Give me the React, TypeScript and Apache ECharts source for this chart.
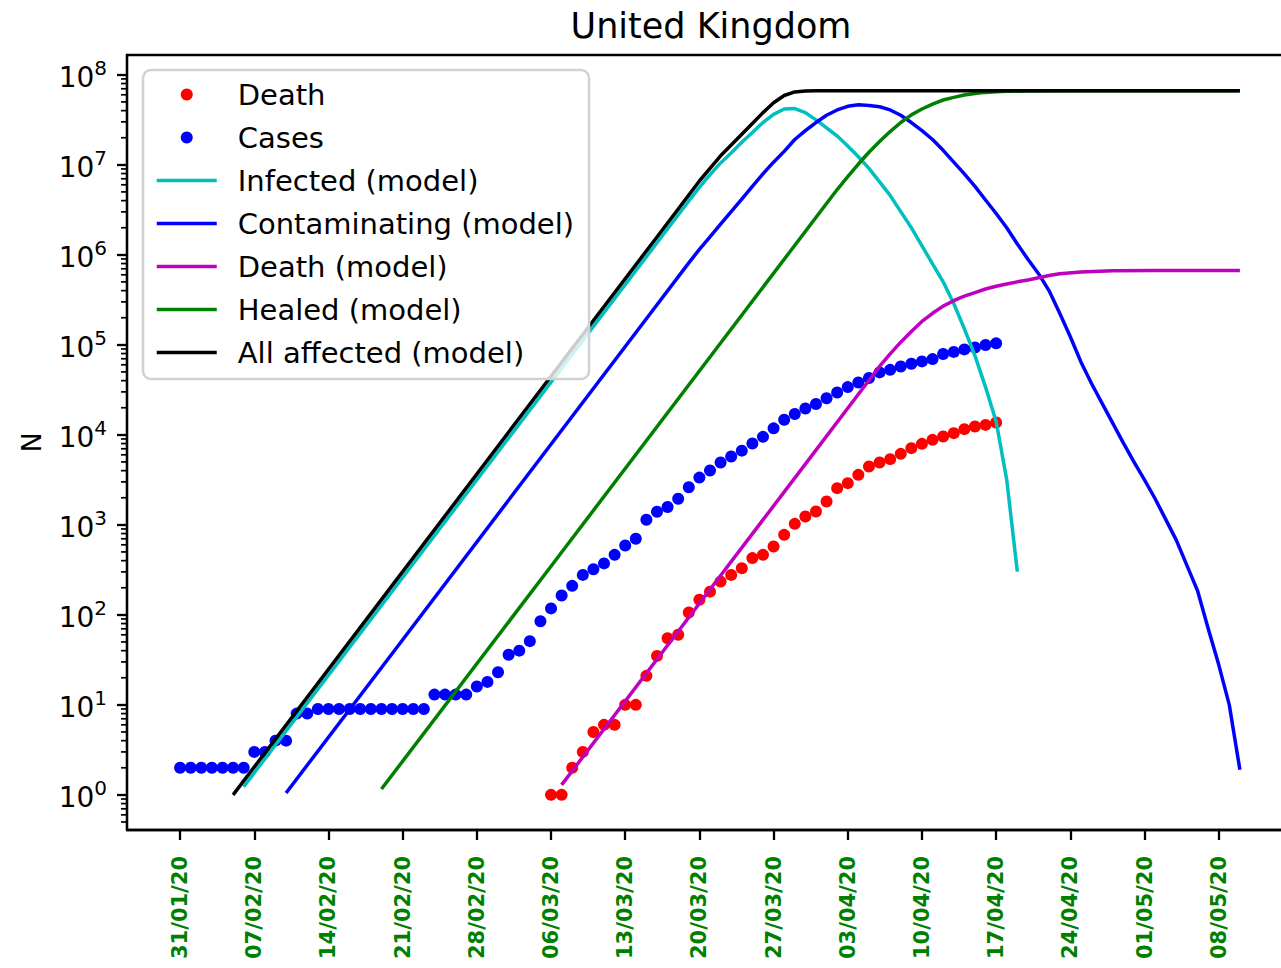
import React, { useEffect, useRef } from "react";
import * as echarts from "echarts";

// Day 0 of the series is 31/01/2020; x values are days since then.
const START_DATE_UTC = Date.UTC(2020, 0, 31);
const TICK_DAYS = [0, 7, 14, 21, 28, 35, 42, 49, 56, 63, 70, 77, 84, 91, 98];
const Y_TICKS = [1, 10, 100, 1e3, 1e4, 1e5, 1e6, 1e7, 1e8];

// Reported cumulative cases, one value per day from 31/01/2020.
const CASES = [
  2, 2, 2, 2, 2, 2, 2, 3, 3, 4, 4, 8, 8, 9, 9, 9, 9, 9, 9, 9, 9, 9, 9, 9, 13, 13, 13, 13,
  16, 18, 23, 36, 40, 51, 85, 118, 164, 210, 278, 321, 373, 464, 590, 700,
  1140, 1400, 1580, 1950, 2620, 3350, 4010, 4920, 5740, 6670, 8000, 9500,
  11800, 14700, 17050, 19600, 22000, 25500, 29500, 33900, 38100, 42800, 49400,
  52700, 57400, 61600, 65400, 69400, 79200, 83400, 89000, 93300, 99500, 103800,
];

// Reported cumulative deaths, one value per day from 06/03/2020 (day 35).
const DEATH_START_DAY = 35;
const DEATHS = [
  1, 1, 2, 3, 5, 6, 6, 10, 10, 21, 35, 55, 60, 106, 147, 181, 234, 278, 330, 427,
  464, 574, 774, 1026, 1238, 1405, 1815, 2555, 2905, 3593, 4444, 4930, 5370, 6150,
  7110, 7940, 8800, 9580, 10440, 11560, 12380, 12900, 13700,
];

// Model curves as [day, N].
const INFECTED_MODEL: [number, number][] = [
  [6, 1.23], [20, 182], [35, 3.85e4], [45, 1.36e6], [48, 3.98e6], [49, 5.62e6],
  [50, 7.76e6], [51, 1.05e7], [52, 1.35e7], [53, 1.78e7], [54, 2.29e7], [55, 2.95e7],
  [56, 3.63e7], [57, 4.17e7], [58, 4.22e7], [59, 3.8e7], [60, 3.16e7], [61, 2.57e7],
  [62, 2.09e7], [63, 1.62e7], [64, 1.23e7], [65, 9.12e6], [66, 6.46e6], [67, 4.57e6],
  [68, 3.02e6], [69, 2.0e6], [70, 1.26e6], [71, 7.94e5], [72, 5.01e5], [73, 2.88e5],
  [74, 1.51e5], [75, 7.59e4], [76, 3.39e4], [77, 1.41e4], [78, 3.16e3], [79, 302],
];

const CONTAMINATING_MODEL: [number, number][] = [
  [10, 1.05], [20, 37], [35, 7.85e3], [45, 2.79e5], [48, 8.13e5], [49, 1.15e6],
  [50, 1.58e6], [51, 2.19e6], [52, 3.02e6], [53, 4.17e6], [54, 5.75e6], [55, 7.94e6],
  [56, 1.07e7], [57, 1.41e7], [58, 1.91e7], [59, 2.4e7], [60, 2.95e7], [61, 3.55e7],
  [62, 4.07e7], [63, 4.47e7], [64, 4.65e7], [65, 4.57e7], [66, 4.42e7], [67, 4.07e7],
  [68, 3.55e7], [69, 2.95e7], [70, 2.4e7], [71, 1.91e7], [72, 1.45e7], [73, 1.07e7],
  [74, 7.94e6], [75, 5.75e6], [76, 4.07e6], [77, 2.88e6], [78, 2.0e6], [79, 1.32e6],
  [80, 8.91e5], [81, 6.17e5], [82, 3.98e5], [83, 2.24e5], [84, 1.23e5], [85, 6.46e4],
  [86, 3.72e4], [87, 2.24e4], [88, 1.35e4], [89, 8.13e3], [90, 5.01e3], [91, 3.16e3],
  [92, 1.95e3], [93, 1.15e3], [94, 676], [95, 355], [96, 186], [97, 71], [98, 28],
  [99, 10], [100, 1.9],
];

const DEATH_MODEL: [number, number][] = [
  [36, 1.29], [50, 191], [60, 6.76e3], [64, 2.82e4], [66, 5.75e4], [67, 7.94e4],
  [68, 1.07e5], [69, 1.41e5], [70, 1.82e5], [71, 2.24e5], [72, 2.69e5], [73, 3.09e5],
  [74, 3.47e5], [75, 3.8e5], [76, 4.17e5], [77, 4.47e5], [78, 4.73e5], [79, 5.01e5],
  [80, 5.25e5], [81, 5.56e5], [82, 5.89e5], [83, 6.17e5], [85, 6.46e5], [88, 6.64e5],
  [92, 6.71e5], [100, 6.71e5],
];

const HEALED_MODEL: [number, number][] = [
  [19, 1.16], [35, 347], [50, 7.33e4], [62, 5.31e6], [63, 7.41e6], [64, 1.02e7],
  [65, 1.38e7], [66, 1.82e7], [67, 2.34e7], [68, 2.95e7], [69, 3.59e7], [70, 4.17e7],
  [71, 4.73e7], [72, 5.25e7], [73, 5.62e7], [74, 5.96e7], [75, 6.21e7], [76, 6.38e7],
  [77, 6.49e7], [78, 6.56e7], [80, 6.62e7], [85, 6.64e7], [100, 6.64e7],
];

const ALL_AFFECTED_MODEL: [number, number][] = [
  [5, 1.0], [20, 211], [35, 4.47e4], [45, 1.58e6], [48, 4.62e6], [49, 6.61e6],
  [50, 9.12e6], [51, 1.26e7], [52, 1.66e7], [53, 2.19e7], [54, 2.88e7], [55, 3.8e7],
  [56, 4.9e7], [57, 5.89e7], [58, 6.46e7], [59, 6.61e7], [60, 6.64e7], [100, 6.64e7],
];

const X_MIN = -5.01;
const X_MAX = 105.2;
const Y_MIN = 0.407;
const Y_MAX = 1.66e8;

const FONT = "DejaVu Sans";

// Series colours
const C_DEATH = "#ff0000";
const C_CASES = "#0000ff";
const C_INFECTED = "#00bfbf";
const C_CONTAM = "#0000ff";
const C_DEATH_MODEL = "#bf00bf";
const C_HEALED = "#008000";
const C_ALL = "#000000";

// Log-axis minor ticks at 2..9 x 10^k inside the visible range.
const MINOR_TICKS: number[] = [];
for (let k = -1; k <= 8; k++) {
  for (let m = 2; m <= 9; m++) {
    const v = m * Math.pow(10, k);
    if (v > Y_MIN && v < Y_MAX) MINOR_TICKS.push(v);
  }
}

function formatDay(day: number): string {
  const d = new Date(START_DATE_UTC + day * 86400000);
  const dd = String(d.getUTCDate()).padStart(2, "0");
  const mm = String(d.getUTCMonth() + 1).padStart(2, "0");
  const yy = String(d.getUTCFullYear() % 100).padStart(2, "0");
  return `${dd}/${mm}/${yy}`;
}

const LINE_W = 3.5;
const DOT = 12;
// The figure is a little wider than the visible window; its right spine falls outside.
const CHART_W = 1300;
const CHART_H = 968;

function lineSeries(name: string, color: string, data: [number, number][]) {
  return {
    name,
    type: "line",
    data,
    symbol: "none",
    showSymbol: false,
    smooth: false,
    lineStyle: { color, width: LINE_W, join: "round" },
    itemStyle: { color },
    z: 3,
  };
}

export default function App() {
  const ref = useRef<HTMLDivElement>(null);

  useEffect(() => {
    if (!ref.current) return;
    const chart = echarts.init(ref.current, undefined, { renderer: "svg" });

    const lineLegend = (name: string, color: string) => ({
      name,
      icon: "line",
      itemStyle: { color, borderColor: color, borderWidth: LINE_W },
    });
    const dotLegend = (name: string, color: string) => ({
      name,
      icon: "circle",
      itemStyle: { color, borderWidth: 0, opacity: 1 },
    });

    chart.setOption({
      animation: false,
      backgroundColor: "#ffffff",
      textStyle: { fontFamily: FONT },
      title: {
        text: "United Kingdom",
        left: 711,
        top: 8,
        padding: 0,
        textAlign: "center",
        textStyle: { fontFamily: FONT, fontSize: 35, fontWeight: "normal", color: "#000" },
      },
      grid: {
        left: 127,
        right: CHART_W - 1295,
        top: 55,
        bottom: 138,
        show: true,
        borderColor: "#000",
        borderWidth: 2.3,
        backgroundColor: "transparent",
      },
      legend: {
        orient: "vertical",
        left: 143,
        top: 70,
        padding: [10, 15, 12, 12],
        itemGap: 14,
        itemWidth: 60,
        itemHeight: 12,
        selectedMode: false,
        backgroundColor: "rgba(255,255,255,0.8)",
        borderColor: "#d2d2d2",
        borderWidth: 2.5,
        borderRadius: 8,
        textStyle: { fontFamily: FONT, fontSize: 29, color: "#000", padding: [0, 0, 0, 16] },
        data: [
          dotLegend("Death", C_DEATH),
          dotLegend("Cases", C_CASES),
          lineLegend("Infected (model)", C_INFECTED),
          lineLegend("Contaminating (model)", C_CONTAM),
          lineLegend("Death (model)", C_DEATH_MODEL),
          lineLegend("Healed (model)", C_HEALED),
          lineLegend("All affected (model)", C_ALL),
        ],
      },
      xAxis: {
        type: "value",
        min: X_MIN,
        max: X_MAX,
        splitLine: { show: false },
        axisLine: { show: true, onZero: false, lineStyle: { color: "#000", width: 2.3 } },
        axisTick: {
          show: true,
          inside: false,
          length: 10,
          lineStyle: { color: "#000", width: 2.3 },
          customValues: TICK_DAYS,
        },
        axisLabel: {
          customValues: TICK_DAYS,
          rotate: 90,
          margin: 26,
          color: "#008000",
          fontWeight: "bold",
          fontSize: 21,
          fontFamily: FONT,
          formatter: (v: number) => formatDay(v),
        },
      },
      yAxis: {
        type: "log",
        logBase: 10,
        min: Y_MIN,
        max: Y_MAX,
        name: "N",
        nameLocation: "middle",
        nameRotate: 90,
        nameGap: 82,
        nameTextStyle: { fontFamily: FONT, fontSize: 27, color: "#000" },
        splitLine: { show: false },
        axisLine: { show: true, onZero: false, lineStyle: { color: "#000", width: 2.3 } },
        axisTick: {
          show: true,
          inside: false,
          length: 10,
          lineStyle: { color: "#000", width: 2.3 },
          customValues: Y_TICKS,
        },
        axisLabel: {
          customValues: Y_TICKS,
          margin: 20,
          formatter: (v: number) => `{b|10}{e|${Math.round(Math.log10(v))}}`,
          rich: {
            b: { fontFamily: FONT, fontSize: 28, color: "#000", lineHeight: 34, verticalAlign: "bottom" },
            e: { fontFamily: FONT, fontSize: 20, color: "#000", lineHeight: 20, verticalAlign: "top" },
          },
        },
      },
      series: [
        {
          name: "Death",
          type: "scatter",
          data: DEATHS.map((v, i) => [DEATH_START_DAY + i, v]),
          symbol: "circle",
          symbolSize: DOT,
          itemStyle: { color: C_DEATH, borderWidth: 0, opacity: 1 },
          z: 2,
        },
        {
          name: "Cases",
          type: "scatter",
          data: CASES.map((v, i) => [i, v]),
          symbol: "circle",
          symbolSize: DOT,
          itemStyle: { color: C_CASES, borderWidth: 0, opacity: 1 },
          z: 2,
        },
        lineSeries("Infected (model)", C_INFECTED, INFECTED_MODEL),
        lineSeries("Contaminating (model)", C_CONTAM, CONTAMINATING_MODEL),
        lineSeries("Death (model)", C_DEATH_MODEL, DEATH_MODEL),
        lineSeries("Healed (model)", C_HEALED, HEALED_MODEL),
        lineSeries("All affected (model)", C_ALL, ALL_AFFECTED_MODEL),
        {
          name: "minorTicks",
          type: "custom",
          silent: true,
          clip: false,
          z: 4,
          data: MINOR_TICKS.map((v) => [X_MIN, v]),
          renderItem: (_params: any, api: any) => {
            const p = api.coord([api.value(0), api.value(1)]);
            return {
              type: "line",
              shape: { x1: p[0] - 6, y1: p[1], x2: p[0], y2: p[1] },
              style: { stroke: "#000", lineWidth: 1.7 },
            };
          },
        },
      ],
    });

    return () => chart.dispose();
  }, []);

  return (
    <div
      style={{
        position: "fixed",
        left: 0,
        top: 0,
        width: 1281,
        height: CHART_H,
        overflow: "hidden",
        background: "#fff",
      }}
    >
      <div ref={ref} style={{ width: CHART_W, height: CHART_H }} />
    </div>
  );
}
